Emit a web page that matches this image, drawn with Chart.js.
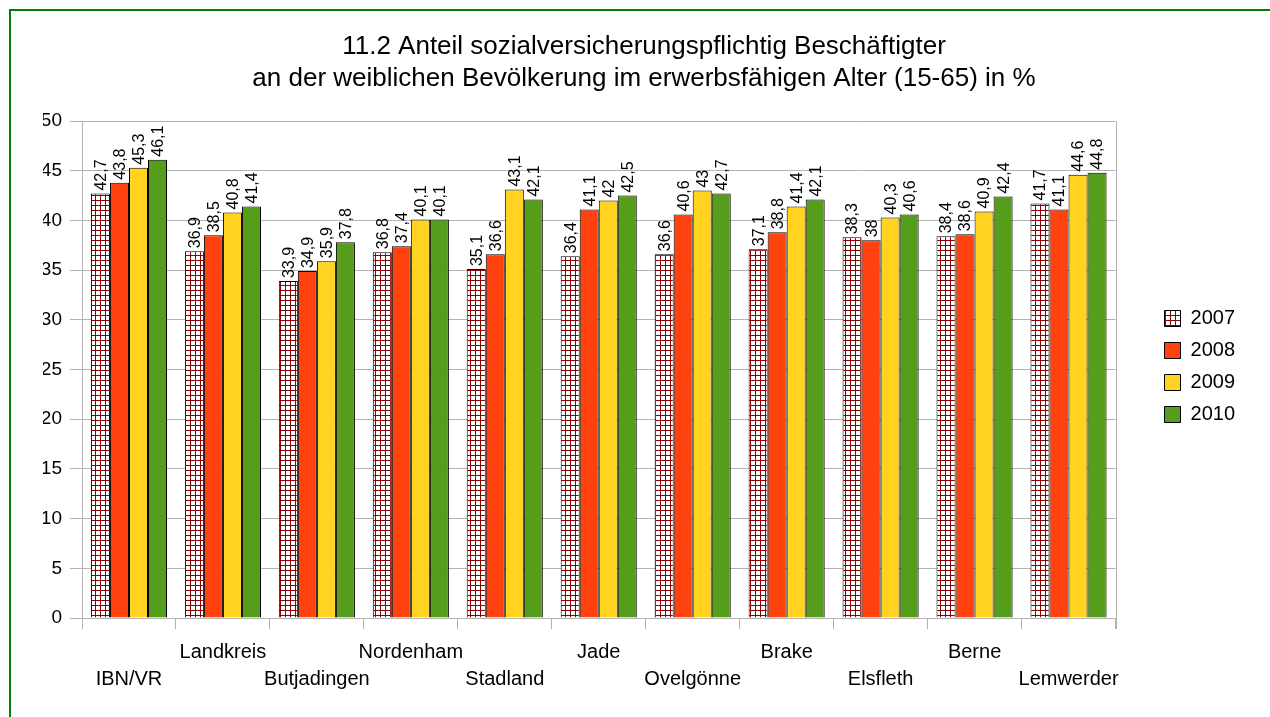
<!DOCTYPE html>
<html lang="de">
<head>
    <meta charset="UTF-8">
    <title>11.2 Anteil sozialversicherungspflichtig Beschäftigter</title>
    <script src="https://cdn.jsdelivr.net/npm/chart.js"></script>
    <style>
        html, body { margin: 0; padding: 0; background: #fff; }
        #frame {
            position: absolute; left: 9px; top: 9px; width: 1270px; height: 720px;
            border-top: 2px solid #008000; border-left: 2px solid #008000;
        }
        #wrap { position: absolute; left: 0; top: 0; width: 1270px; height: 717px; }
    </style>
</head>
<body>
    <div id="frame"></div>
    <div id="wrap"><canvas id="chart" width="1270" height="717"></canvas></div>

    <script>
        const categories = ['IBN/VR', 'Landkreis', 'Butjadingen', 'Nordenham', 'Stadland', 'Jade',
            'Ovelgönne', 'Brake', 'Elsfleth', 'Berne', 'Lemwerder'];
        const years = ['2007', '2008', '2009', '2010'];
        const values2007 = [42.7, 36.9, 33.9, 36.8, 35.1, 36.4, 36.6, 37.1, 38.3, 38.4, 41.7];
        const values2008 = [43.8, 38.5, 34.9, 37.4, 36.6, 41.1, 40.6, 38.8, 38.0, 38.6, 41.1];
        const values2009 = [45.3, 40.8, 35.9, 40.1, 43.1, 42.0, 43.0, 41.4, 40.3, 40.9, 44.6];
        const values2010 = [46.1, 41.4, 37.8, 40.1, 42.1, 42.5, 42.7, 42.1, 40.6, 42.4, 44.8];
        const yTicks = [0, 5, 10, 15, 20, 25, 30, 35, 40, 45, 50];

        const FONT = '"Liberation Sans", Arial, sans-serif';
        const GRID = '#b3b3b3';

        // Karomuster fuer 2007
        function hatch() {
            const n = 5;
            const c = document.createElement('canvas');
            c.width = n; c.height = n;
            const g = c.getContext('2d');
            g.fillStyle = '#ffffff';
            g.fillRect(0, 0, n, n);
            g.strokeStyle = '#8b0000';
            g.lineWidth = 1;
            g.beginPath();
            g.moveTo(0.5, 0); g.lineTo(0.5, n);
            g.moveTo(0, 0.5); g.lineTo(n, 0.5);
            g.stroke();
            return g.createPattern(c, 'repeat');
        }

        const ctx = document.getElementById('chart').getContext('2d');

        const valueLabels = {
            id: 'valueLabels',
            afterDatasetsDraw(chart) {
                const c = chart.ctx;
                c.save();
                c.font = '16px ' + FONT;
                c.fillStyle = '#000';
                c.textAlign = 'left';
                c.textBaseline = 'middle';
                chart.data.datasets.forEach((ds, i) => {
                    chart.getDatasetMeta(i).data.forEach((bar, j) => {
                        c.save();
                        c.translate(bar.x + 1, bar.y - 3);
                        c.rotate(-Math.PI / 2);
                        c.fillText(String(ds.data[j]).replace('.', ','), 0, 0);
                        c.restore();
                    });
                });
                c.restore();
            }
        };

        const plotFrame = {
            id: 'plotFrame',
            afterDraw(chart) {
                const a = chart.chartArea;
                const c = chart.ctx;
                c.save();
                c.strokeStyle = GRID;
                c.lineWidth = 1;
                c.beginPath();
                c.moveTo(Math.round(a.right) + 0.5, a.top);
                c.lineTo(Math.round(a.right) + 0.5, a.bottom + 11);
                c.stroke();
                c.restore();
            }
        };

        const colors = [hatch(), '#ff420e', '#ffd320', '#579d1c'];
        const series = [values2007, values2008, values2009, values2010];

        new Chart(ctx, {
            type: 'bar',
            data: {
                labels: categories,
                datasets: years.map((y, i) => ({
                    label: y,
                    data: series[i],
                    backgroundColor: colors[i],
                    borderColor: '#000000',
                    borderWidth: 1,
                    categoryPercentage: 0.81,
                    barPercentage: 1.0
                }))
            },
            options: {
                responsive: false,
                animation: false,
                layout: { padding: { left: 43, right: 25, top: 0, bottom: 0 } },
                plugins: {
                    title: {
                        display: true,
                        text: ['11.2 Anteil sozialversicherungspflichtig Beschäftigter',
                               'an der weiblichen Bevölkerung im erwerbsfähigen Alter (15-65) in %'],
                        color: '#000',
                        font: { family: FONT, size: 26, weight: 'normal', lineHeight: 32 / 26 },
                        padding: { top: 31, bottom: 26 }
                    },
                    legend: {
                        position: 'right',
                        title: { display: true, text: ' ', font: { size: 10, lineHeight: 1.2 }, padding: 2 },
                        labels: {
                            color: '#000',
                            font: { family: FONT, size: 20 },
                            boxWidth: 16,
                            boxHeight: 16,
                            padding: 12
                        }
                    },
                    tooltip: { enabled: false }
                },
                scales: {
                    x: {
                        grid: { drawOnChartArea: false, color: GRID, tickLength: 11 },
                        border: { color: GRID },
                        ticks: {
                            color: '#000',
                            font: { family: FONT, size: 20, lineHeight: 27 / 20 },
                            padding: 10,
                            autoSkip: false,
                            maxRotation: 0,
                            callback: (v, i) => i % 2 === 0 ? ['', categories[i]] : [categories[i], '']
                        },
                        afterFit: s => { s.height = 99; }
                    },
                    y: {
                        min: 0,
                        max: 50,
                        afterBuildTicks: s => { s.ticks = yTicks.map(v => ({ value: v })); },
                        grid: { color: GRID, tickLength: 12 },
                        border: { color: GRID },
                        ticks: {
                            color: '#000',
                            font: { family: FONT, size: 19 },
                            padding: 8
                        },
                        afterFit: s => { s.width = 39; }
                    },
                    y2: {
                        position: 'right',
                        display: true,
                        grid: { display: false, drawTicks: false },
                        border: { display: false },
                        ticks: { display: false },
                        afterFit: s => { s.width = 37; }
                    }
                }
            },
            plugins: [valueLabels, plotFrame]
        });
    </script>
</body>
</html>
